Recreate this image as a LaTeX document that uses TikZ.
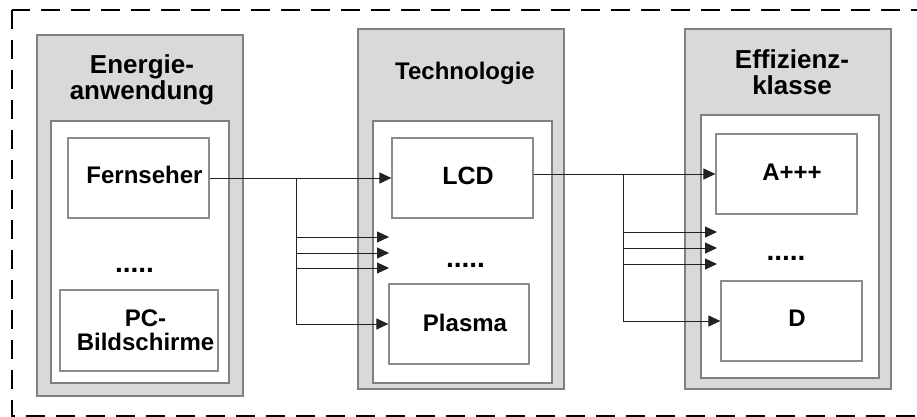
\documentclass[tikz,border=0pt]{standalone}
\usepackage{fontspec}
\setmainfont{Liberation Sans}
\usetikzlibrary{arrows.meta}
\definecolor{colfill}{HTML}{D9D9D9}
\definecolor{colborder}{HTML}{808080}
\definecolor{itemborder}{HTML}{8C8C8C}
\definecolor{conncol}{HTML}{222222}
\tikzset{
  frame/.style={draw=black, line width=2.2pt, dash pattern=on 19pt off 11pt},
  colbox/.style={draw=colborder, fill=colfill, line width=1.5pt, inner sep=0pt},
  innerbox/.style={draw=colborder, fill=white, line width=1.3pt, inner sep=0pt},
  itembox/.style={draw=itemborder, fill=white, line width=1.2pt, inner sep=0pt},
  lbl/.style={font=\fontsize{24}{26}\selectfont\bfseries, inner sep=0pt, align=center, text=black},
  titlelbl/.style={lbl, font=\fontsize{26}{26}\selectfont\bfseries},
  dotslbl/.style={lbl, font=\fontsize{28}{28}\selectfont\bfseries},
  conn/.style={draw=conncol, line width=1pt, -{Triangle[length=12pt,width=11pt]}},
}
\begin{document}
\begin{tikzpicture}[x=1pt,y=-1pt]
\useasboundingbox (0,0) rectangle (917,417);
\draw[frame] (12,10) rectangle (935,416);

% column 1
\node[colbox, minimum width=206pt, minimum height=361pt] (c1) at (140,215.5) {};
\node[innerbox, minimum width=178pt, minimum height=262pt] (w1) at (140,252) {};
\node[titlelbl] (t1) at (142,80) {Energie-\\anwendung};
\node[itembox, minimum width=141pt, minimum height=80pt] (fern) at (138.5,178) {};
\node[lbl, anchor=base] (fernl) at (144.5,183) {Fernseher};
\node[dotslbl, anchor=base] (d1) at (134.5,272) {.....};
\node[itembox, minimum width=158pt, minimum height=81pt] (pc) at (139,330.5) {};
\node[lbl, font=\fontsize{24}{24}\selectfont\bfseries] (pcl) at (145.5,330) {PC-\\Bildschirme};

% column 2
\node[colbox, minimum width=206pt, minimum height=360pt] (c2) at (461,209) {};
\node[innerbox, minimum width=179pt, minimum height=262pt] (w2) at (462.5,252) {};
\node[lbl, anchor=base] (t2) at (465,80) {Technologie};
\node[itembox, minimum width=141pt, minimum height=80pt] (lcd) at (462.5,178) {};
\node[lbl, anchor=base, font=\fontsize{25}{26}\selectfont\bfseries] (lcdl) at (468,184) {LCD};
\node[dotslbl, anchor=base] (d2) at (465.5,267) {.....};
\node[itembox, minimum width=140pt, minimum height=80pt] (plasma) at (459,324) {};
\node[lbl, anchor=base] (plasmal) at (465,331) {Plasma};

% column 3
\node[colbox, minimum width=206pt, minimum height=360pt] (c3) at (788,209) {};
\node[innerbox, minimum width=178pt, minimum height=263pt] (w3) at (790,246.5) {};
\node[titlelbl] (t3) at (792,72) {Effizienz-\\klasse};
\node[itembox, minimum width=141pt, minimum height=80pt] (aaa) at (786.5,174) {};
\node[lbl, anchor=base] (aaal) at (792,180) {A+++};
\node[dotslbl, anchor=base] (d3) at (786,260) {.....};
\node[itembox, minimum width=141pt, minimum height=80pt] (dd) at (791.5,321) {};
\node[lbl, anchor=base] (ddl) at (797,326) {D};

% connectors column 1 -> column 2
\coordinate (b1) at (296,178);
\coordinate (e1) at (389,237);
\coordinate (e2) at (389,253);
\coordinate (e3) at (389,268);
\draw[conn] (fern.east) -- (lcd.west);
\draw[conn] (b1) |- (e1);
\draw[conn] (b1) |- (e2);
\draw[conn] (b1) |- (e3);
\draw[conn] (b1) |- (plasma.west);

% connectors column 2 -> column 3
\coordinate (b2) at (623,174);
\coordinate (f1) at (717,232);
\coordinate (f2) at (717,248);
\coordinate (f3) at (717,264);
\draw[conn] (lcd.east |- aaa.west) -- (aaa.west);
\draw[conn] (b2) |- (f1);
\draw[conn] (b2) |- (f2);
\draw[conn] (b2) |- (f3);
\draw[conn] (b2) |- (dd.west);
\end{tikzpicture}
\end{document}
